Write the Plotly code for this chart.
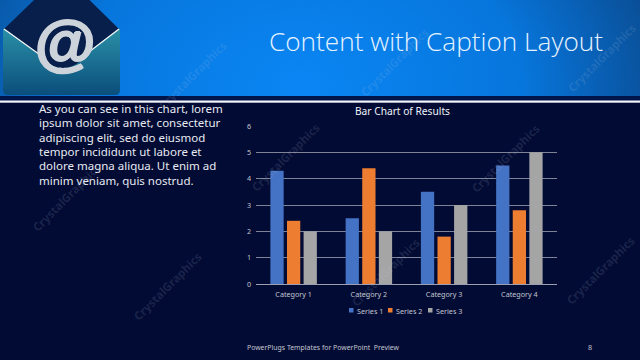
import base64
import plotly.graph_objects as go

categories = ["Category 1", "Category 2", "Category 3", "Category 4"]
series_names = ["Series 1", "Series 2", "Series 3"]
series_1 = [4.3, 2.5, 3.5, 4.5]
series_2 = [2.4, 4.4, 1.8, 2.8]
series_3 = [2, 2, 3, 5]
series_colors = ["#4472C4", "#ED7D31", "#A5A5A5"]
y_ticks = [0, 1, 2, 3, 4, 5, 6]
body_lines = [
    "As you can see in this chart, lorem",
    "ipsum dolor sit amet, consectetur",
    "adipiscing elit, sed do eiusmod",
    "tempor incididunt ut labore et",
    "dolore magna aliqua. Ut enim ad",
    "minim veniam, quis nostrud.",
]
watermarks = [(192, 75), (394, 62), (602, 58), (285, 157), (505, 158), (66, 197),
              (167, 286), (385, 272), (600, 270)]

W, H = 640, 360
BG = "#020B33"

svg = f'''<svg xmlns="http://www.w3.org/2000/svg" width="{W}" height="{H}" viewBox="0 0 {W} {H}">
<defs>
<radialGradient id="h" gradientUnits="userSpaceOnUse" cx="0" cy="0" r="1" gradientTransform="translate(300 85) scale(370 260)">
<stop offset="0" stop-color="#0A86F4"/><stop offset="0.6" stop-color="#0776DC"/><stop offset="1" stop-color="#0A4C92"/>
</radialGradient>
<linearGradient id="t" x1="0" y1="0" x2="0" y2="1"><stop offset="0" stop-color="#2A8FA6"/><stop offset="1" stop-color="#0B4E7C"/></linearGradient>
</defs>
<rect width="{W}" height="{H}" fill="{BG}"/>
<rect width="{W}" height="97" fill="url(#h)"/>
<rect y="96" width="{W}" height="5" fill="#02154A"/>
<rect y="100.5" width="{W}" height="2.2" fill="#F2F4FA"/>
<path d="M3,29 L120,29 L120,90 Q120,95 115,95 L8,95 Q3,95 3,90 Z" fill="url(#t)"/>
<polygon points="4,29 62,-27 119,29 66,68 58,68" fill="#071F4A"/>
<polyline points="4,29 50,62 62,68 72,65 119,29" fill="none" stroke="#F4F8FB" stroke-width="1.3"/>
<circle cx="63" cy="44" r="24" fill="#071F4A"/>
</svg>'''
bg_src = "data:image/svg+xml;base64," + base64.b64encode(svg.encode()).decode()

fig = go.Figure()
for name, vals, col in zip(series_names, [series_1, series_2, series_3], series_colors):
    fig.add_bar(name=name, x=categories, y=vals, marker=dict(color=col, line_width=0), showlegend=False)


def px(x):
    return x / W


def py(y):
    return 1 - y / H


ann = []


def text(x, y, s, size, color, anchor="left", font="Noto Sans", angle=0, weight=None, shadow=None):
    f = dict(size=size, color=color, family=font)
    if weight:
        f["weight"] = weight
    if shadow:
        f["shadow"] = shadow
    ann.append(dict(x=px(x), y=py(y), xref="paper", yref="paper", text=s, showarrow=False, font=f,
                    xanchor=anchor, yanchor="middle", textangle=angle, align="left"))


for (x, y) in watermarks:
    text(x, y, "CrystalGraphics", 11.5, "rgba(190,200,225,0.15)", "center", "Noto Sans", -45, weight=700)
text(436, 41, "Content with Caption Layout", 26.2, "#E6F3FF", "center", "Open Sans", weight=300)
for i, line in enumerate(body_lines):
    text(37, 108.5 + i * 14.35, line, 11.5, "#E8EAF2", "left", "Noto Sans")
text(402, 110.5, "Bar Chart of Results", 10.2, "#F0F2F8", "center", "Noto Sans")
text(245, 347, "PowerPlugs Templates for PowerPoint  Preview", 6.9, "#C2C6D2", "left", "Noto Sans")
text(589.5, 347, "8", 7.2, "#C2C6D2", "center", "Noto Sans")
legend_x = [349, 388, 428]
shapes = []
for lx, name, col in zip(legend_x, series_names, series_colors):
    shapes.append(dict(type="rect", xref="paper", yref="paper", x0=px(lx), x1=px(lx + 4.5),
                       y0=py(312.5), y1=py(308), fillcolor=col, line_width=0))
    text(lx + 6, 310.5, name, 7.2, "#C2C6D2", "left", "Noto Sans")
text(64, 42, "<b><i>@</i></b>", 62, "#CDD3DA", "center", "Liberation Sans",
     shadow="1.2px 0 0 #CDD3DA, -1.2px 0 0 #CDD3DA, 0 1.2px 0 #CDD3DA, 0 -1.2px 0 #CDD3DA")

fig.update_layout(
    width=W, height=H, autosize=False, margin=dict(l=0, r=0, t=0, b=0),
    paper_bgcolor=BG, plot_bgcolor="rgba(0,0,0,0)",
    barmode="group", bargap=0.338, bargroupgap=0.2, showlegend=False,
    font=dict(family="Noto Sans", size=7.2, color="#C2C6D2"),
    xaxis=dict(domain=[256 / W, 557 / W], showgrid=False, ticks="", linecolor="#9A9FB2", linewidth=1,
               showline=True, automargin=False, tickfont=dict(size=7.2, color="#C2C6D2"), ticklabelstandoff=3),
    yaxis=dict(domain=[1 - 284 / H, 1 - 126 / H], range=[0, 6], tickvals=y_ticks, gridcolor="#7E8398",
               gridwidth=1, zeroline=False, ticks="", showline=False, automargin=False,
               tickfont=dict(size=7.2, color="#C2C6D2"), ticklabelstandoff=4),
    annotations=ann, shapes=shapes,
    images=[dict(source=bg_src, xref="paper", yref="paper", x=0, y=1, sizex=1, sizey=1,
                 xanchor="left", yanchor="top", sizing="stretch", layer="below")],
)
fig.write_html("out.html", config=dict(displayModeBar=False),
               post_script="document.body.style.margin='0';document.body.style.overflow='hidden';document.body.style.background='#020B33';")
